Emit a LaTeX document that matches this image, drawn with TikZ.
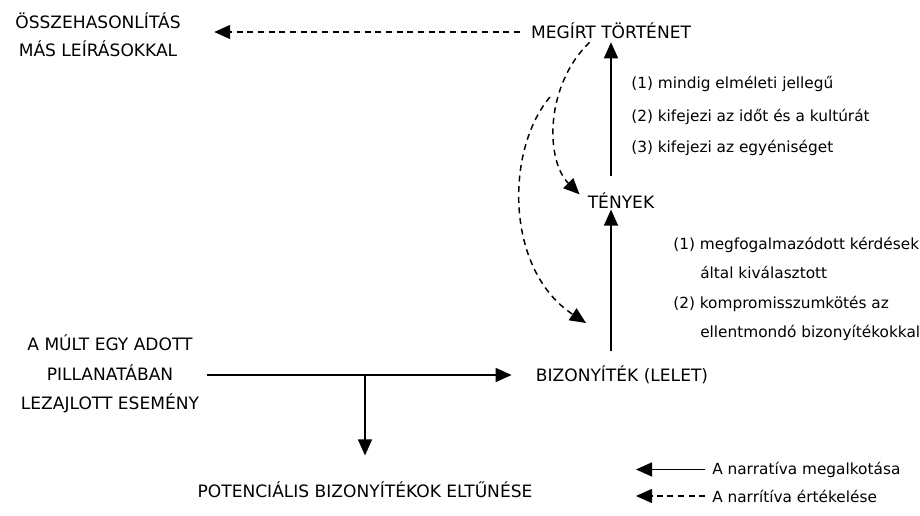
\documentclass[tikz,border=0pt]{standalone}
\usepackage{fontspec}
\setmainfont{DejaVu Sans}
\usetikzlibrary{arrows.meta}
\newcommand\mycapfont{\fontsize{12.8pt}{21pt}\selectfont}
\newcommand\myevfont{\fontsize{12.8pt}{22pt}\selectfont}
\newcommand\mylblfont{\fontsize{11.5pt}{14pt}\selectfont}
\tikzset{
  capnode/.style={font=\mycapfont, inner sep=0pt, text height=12pt, text depth=3pt, anchor=base},
  multinode/.style={inner sep=0pt, align=center},
  lbl/.style={font=\mylblfont, inner sep=0pt, anchor=base west},
  solidarr/.style={line width=1.1pt, -{Triangle[length=12pt,width=10.5pt]}},
  dasharr/.style={solidarr, dash pattern=on 4.5pt off 3.5pt},
}
\begin{document}
\begin{tikzpicture}[x=0.75pt,y=-0.75pt]
\useasboundingbox (0,0) rectangle (920,515);
% nodes
\node[capnode] (story) at (611,38) {MEGÍRT TÖRTÉNET};
\node[capnode] (facts) at (621,208) {TÉNYEK};
\node[capnode] (evid) at (622,381) {BIZONYÍTÉK (LELET)};
\node[capnode] (loss) at (365,497) {POTENCIÁLIS BIZONYÍTÉKOK ELTŰNÉSE};
\node[multinode, font=\mycapfont] (cmp) at (98,35) {ÖSSZEHASONLÍTÁS\\MÁS LEÍRÁSOKKAL};
\node[multinode, font=\myevfont] (event) at (110,374) {A MÚLT EGY ADOTT\\PILLANATÁBAN\\LEZAJLOTT ESEMÉNY};
% labels
\node[lbl] (l1) at (631,88) {(1) mindig elméleti jellegű};
\node[lbl] (l2) at (631,121) {(2) kifejezi az időt és a kultúrát};
\node[lbl] (l3) at (631,152) {(3) kifejezi az egyéniséget};
\node[lbl] (m1) at (673,249) {(1) megfogalmazódott kérdések};
\node[lbl] (m2) at (700,278) {által kiválasztott};
\node[lbl] (m3) at (673,308) {(2) kompromisszumkötés az};
\node[lbl] (m4) at (700,337) {ellentmondó bizonyítékokkal};
% legend
\node[lbl] (leg1) at (712,474) {A narratíva megalkotása};
\node[lbl] (leg2) at (712,502) {A narrítíva értékelése};
\coordinate (leg1tip) at (636,469);
\coordinate (leg2tip) at (636,497);
\coordinate (c2s) at (550,97);
\coordinate (c2e) at (586,323);
% connectors
\draw[dasharr, shorten <=8pt, shorten >=25pt] (story.west) -- (cmp.east |- story.west);
\draw[solidarr, shorten <=12pt] (facts.north -| story.south) -- (story.south);
\draw[solidarr, shorten <=10pt, shorten >=-2pt] (evid.north -| story.south) -- (facts.south -| story.south);
\draw[dasharr] ([xshift=-16pt]story.south) .. controls (545,85) and (545,160) .. ([xshift=-6pt,yshift=-2pt]facts.north west);
\draw[dasharr] (c2s) .. controls (505,150) and (505,270) .. (c2e);
\draw[solidarr, shorten <=6pt, shorten >=18pt] (event.east |- evid.west) -- (evid.west);
\draw[solidarr, shorten >=19pt] (loss.north |- evid.west) -- (loss.north);
\draw[solidarr, shorten <=5pt] (leg1.west) -- (leg1.west -| leg1tip);
\draw[dasharr, shorten <=5pt] (leg2.west) -- (leg2.west -| leg2tip);
\end{tikzpicture}
\end{document}
